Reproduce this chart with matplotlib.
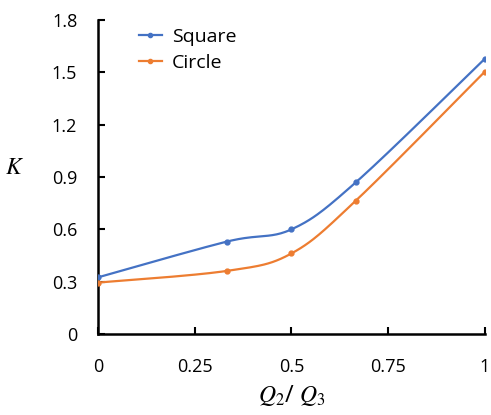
import numpy as np
import matplotlib.pyplot as plt

# ratio Q2/Q3 and measured K values
ratio = [0, 1 / 3, 0.5, 2 / 3, 1]
k_square = [0.325, 0.530, 0.600, 0.870, 1.578]
k_circle = [0.295, 0.362, 0.462, 0.765, 1.504]

x_ticks = [0, 0.25, 0.5, 0.75, 1]
x_tick_labels = ["0", "0.25", "0.5", "0.75", "1"]
y_ticks = [0, 0.3, 0.6, 0.9, 1.2, 1.5, 1.8]
y_tick_labels = ["0", "0.3", "0.6", "0.9", "1.2", "1.5", "1.8"]


def smooth(xs, ys, n=40, t=1 / 6):
    # cubic bezier through the points, catmull-rom style tangents
    xs = np.asarray(xs, float)
    ys = np.asarray(ys, float)
    px = np.concatenate([[xs[0]], xs, [xs[-1]]])
    py = np.concatenate([[ys[0]], ys, [ys[-1]]])
    out_x, out_y = [], []
    s = np.linspace(0, 1, n)
    for i in range(1, len(px) - 2):
        p0 = np.array([px[i], py[i]])
        p3 = np.array([px[i + 1], py[i + 1]])
        c1 = p0 + t * (np.array([px[i + 1], py[i + 1]]) - np.array([px[i - 1], py[i - 1]]))
        c2 = p3 - t * (np.array([px[i + 2], py[i + 2]]) - np.array([px[i], py[i]]))
        b = ((1 - s) ** 3)[:, None] * p0 + (3 * (1 - s) ** 2 * s)[:, None] * c1 \
            + (3 * (1 - s) * s ** 2)[:, None] * c2 + (s ** 3)[:, None] * p3
        out_x.extend(b[:, 0])
        out_y.extend(b[:, 1])
    return out_x, out_y


plt.rcParams["font.family"] = ["Open Sans", "DejaVu Sans"]
plt.rcParams["mathtext.fontset"] = "stix"

fig = plt.figure(figsize=(4.91, 4.15), dpi=100)
ax = fig.add_axes([0.1996, 0.195, 0.788, 0.757])

blue = "#4472C4"
orange = "#ED7D31"
for ys, c, name in [(k_square, blue, "Square"), (k_circle, orange, "Circle")]:
    sx, sy = smooth(ratio, ys)
    ax.plot(sx, sy, color=c, lw=1.6, zorder=3)
    ax.plot(ratio, ys, "o", color=c, ms=3.5, zorder=4)
    ax.plot([], [], "-o", color=c, lw=1.6, ms=3, label=name)

ax.set_xlim(0, 1)
ax.set_ylim(0, 1.8)
ax.set_xticks(x_ticks)
ax.set_xticklabels(x_tick_labels)
ax.set_yticks(y_ticks)
ax.set_yticklabels(y_tick_labels)
ax.tick_params(direction="in", length=5, width=1.5, labelsize=13, pad=15)
ax.tick_params(axis="x", pad=17)
for side in ["top", "right"]:
    ax.spines[side].set_visible(False)
for side in ["left", "bottom"]:
    ax.spines[side].set_linewidth(1.8)

ax.set_ylabel("$K$", fontsize=17, rotation=0)
ax.yaxis.set_label_coords(-0.215, 0.49)
ax.set_xlabel("$Q_2$/ $Q_3$", fontsize=17)
ax.xaxis.set_label_coords(0.5, -0.155)

ax.legend(loc="upper left", bbox_to_anchor=(0.06, 1.03), frameon=False,
          fontsize=14, handlelength=1.2, handletextpad=0.5, labelspacing=0.4)

fig.savefig("out.png", dpi=100)
